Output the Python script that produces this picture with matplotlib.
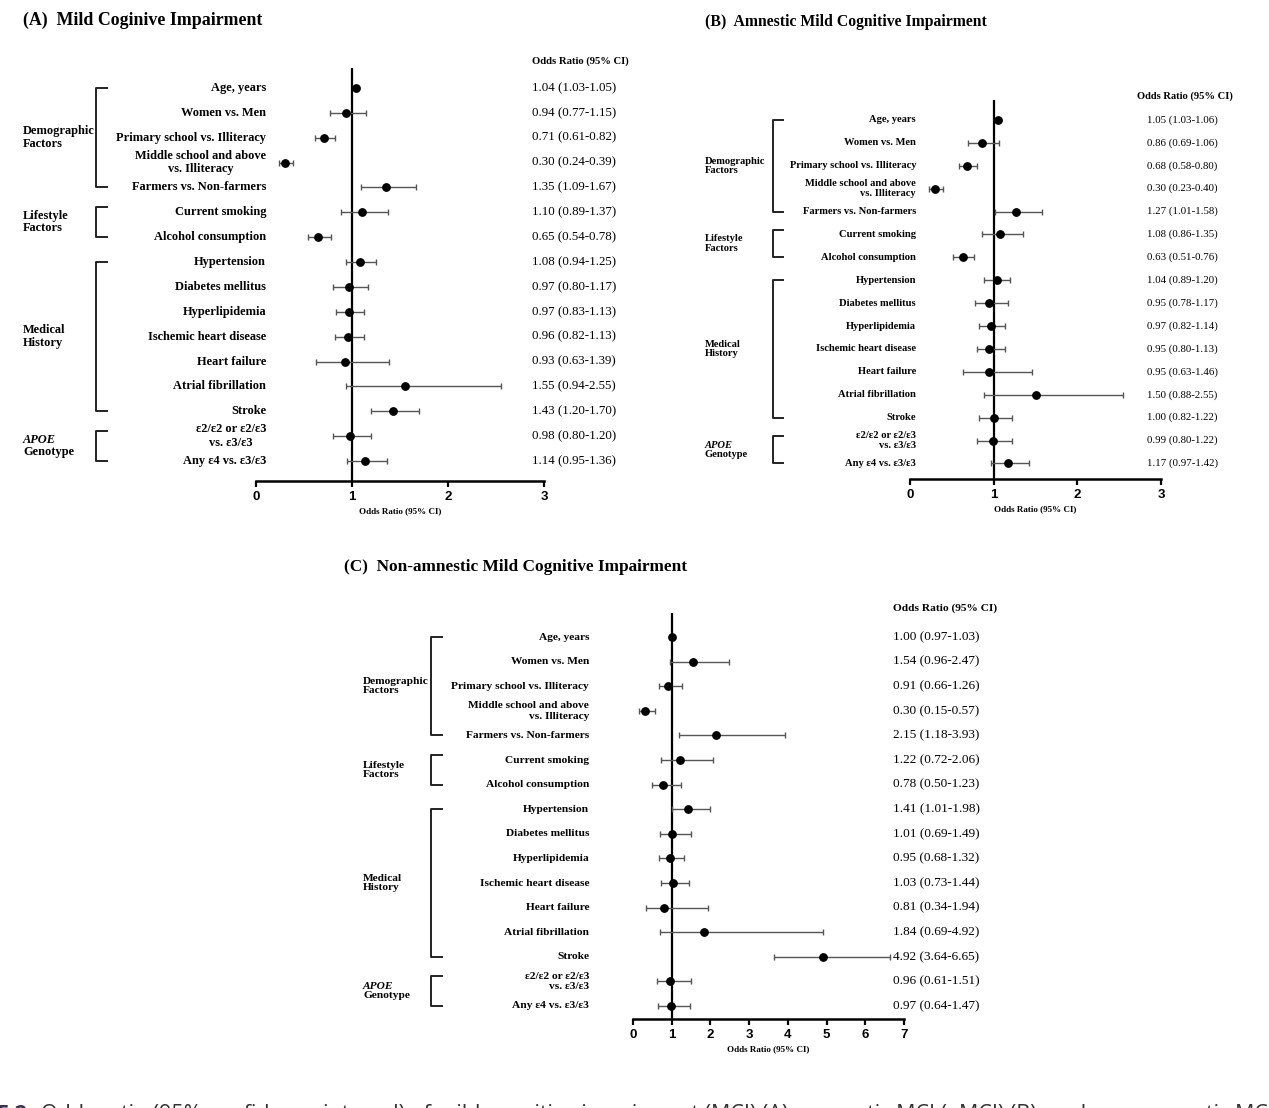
import matplotlib
matplotlib.use('Agg')
import matplotlib.pyplot as plt

SERIF = ['Liberation Serif', 'DejaVu Serif']
SANS_NARROW = ['Liberation Sans Narrow', 'Liberation Sans', 'DejaVu Sans']

W, H = 1269, 1108

labels = [
    "Age, years", "Women vs. Men", "Primary school vs. Illiteracy",
    "Middle school and above\nvs. Illiteracy", "Farmers vs. Non-farmers",
    "Current smoking", "Alcohol consumption", "Hypertension",
    "Diabetes mellitus", "Hyperlipidemia", "Ischemic heart disease",
    "Heart failure", "Atrial fibrillation", "Stroke",
    "ε2/ε2 or ε2/ε3\nvs. ε3/ε3", "Any ε4 vs. ε3/ε3",
]
# (label, first row, last row)
groups = [("Demographic\nFactors", 0, 4), ("Lifestyle\nFactors", 5, 6),
          ("Medical\nHistory", 7, 13), ("APOE", 14, 15)]

# Panel A: MCI
or_a = [1.04, 0.94, 0.71, 0.30, 1.35, 1.10, 0.65, 1.08, 0.97, 0.97, 0.96, 0.93, 1.55, 1.43, 0.98, 1.14]
lo_a = [1.03, 0.77, 0.61, 0.24, 1.09, 0.89, 0.54, 0.94, 0.80, 0.83, 0.82, 0.63, 0.94, 1.20, 0.80, 0.95]
hi_a = [1.05, 1.15, 0.82, 0.39, 1.67, 1.37, 0.78, 1.25, 1.17, 1.13, 1.13, 1.39, 2.55, 1.70, 1.20, 1.36]

# Panel B: amnestic MCI
or_b = [1.05, 0.86, 0.68, 0.30, 1.27, 1.08, 0.63, 1.04, 0.95, 0.97, 0.95, 0.95, 1.50, 1.00, 0.99, 1.17]
lo_b = [1.03, 0.69, 0.58, 0.23, 1.01, 0.86, 0.51, 0.89, 0.78, 0.82, 0.80, 0.63, 0.88, 0.82, 0.80, 0.97]
hi_b = [1.06, 1.06, 0.80, 0.40, 1.58, 1.35, 0.76, 1.20, 1.17, 1.14, 1.13, 1.46, 2.55, 1.22, 1.22, 1.42]

# Panel C: non-amnestic MCI
or_c = [1.00, 1.54, 0.91, 0.30, 2.15, 1.22, 0.78, 1.41, 1.01, 0.95, 1.03, 0.81, 1.84, 4.92, 0.96, 0.97]
lo_c = [0.97, 0.96, 0.66, 0.15, 1.18, 0.72, 0.50, 1.01, 0.69, 0.68, 0.73, 0.34, 0.69, 3.64, 0.61, 0.64]
hi_c = [1.03, 2.47, 1.26, 0.57, 3.93, 2.06, 1.23, 1.98, 1.49, 1.32, 1.44, 1.94, 4.92, 6.65, 1.51, 1.47]


def px_axes(fig, left, top, right, bottom):
    """Adds an axes given pixel box (origin top-left)."""
    return fig.add_axes([left / W, 1 - bottom / H, (right - left) / W, (bottom - top) / H])


def draw_panel(ax, ors, los, his, xmax, ylim, title, title_xy,
               lab_x, br_x, grp_x, val_x, head_xy, align, fs):
    fs_lab, fs_val, fs_head, fs_title = fs
    n = len(ors)
    rows = list(range(n))
    xerr = [[o - l for o, l in zip(ors, los)], [h - o for o, h in zip(ors, his)]]
    ax.errorbar(ors, rows, xerr=xerr, fmt='o', color='black', ms=5.3,
                ecolor='#555555', elinewidth=1.0, capsize=2.5, capthick=1.0, zorder=3)
    ax.axvline(1, color='black', lw=1.6, zorder=2)

    ax.set_xlim(0, xmax)
    ax.set_ylim(*ylim)
    ax.set_yticks([])
    for s in ['top', 'right', 'left']:
        ax.spines[s].set_visible(False)
    ax.spines['bottom'].set_linewidth(1.8)
    ax.set_xticks(range(xmax + 1))
    ax.tick_params(axis='x', length=4.5, width=1.6, pad=2.5)
    for t in ax.get_xticklabels():
        t.set_fontfamily(SANS_NARROW)
        t.set_fontweight('bold')
        t.set_fontsize(9.5)
    ax.set_xlabel("Odds Ratio (95% CI)", fontfamily=SERIF, fontweight='bold',
                  fontsize=6.5, labelpad=3)

    tr = ax.get_yaxis_transform()
    for i, lab in enumerate(labels):
        ax.text(lab_x, i, lab, transform=tr, ha='right', va='center',
                multialignment=align, fontfamily=SERIF, fontweight='bold',
                fontsize=fs_lab, linespacing=1.2, clip_on=False)
        ax.text(val_x, i, f"{ors[i]:.2f} ({los[i]:.2f}-{his[i]:.2f})",
                transform=tr, ha='left', va='center', fontfamily=SERIF,
                fontsize=fs_val, clip_on=False)
    ax.text(head_xy[0], head_xy[1], "Odds Ratio (95% CI)", transform=tr,
            ha='center', va='center', fontfamily=SERIF, fontweight='bold',
            fontsize=fs_head, clip_on=False)

    for name, start, end in groups:
        top = start - (0.2 if end - start == 1 else 0)
        ax.plot([br_x[1], br_x[0], br_x[0], br_x[1]], [top, top, end, end],
                transform=tr, color='#222222', lw=1.4, clip_on=False)
        mid = (top + end) / 2
        if name == "APOE":
            ax.text(grp_x, mid, "APOE", transform=tr, ha='left', va='bottom',
                    fontfamily=SERIF, fontweight='bold', fontstyle='italic',
                    fontsize=fs_lab, clip_on=False)
            ax.text(grp_x, mid, "Genotype", transform=tr, ha='left', va='top',
                    fontfamily=SERIF, fontweight='bold', fontsize=fs_lab, clip_on=False)
        else:
            ax.text(grp_x, mid, name, transform=tr, ha='left', va='center',
                    fontfamily=SERIF, fontweight='bold', fontsize=fs_lab,
                    linespacing=1.05, clip_on=False)

    fig = ax.figure
    fig.text(title_xy[0] / W, 1 - title_xy[1] / H, title, ha='left', va='center',
             fontfamily=SERIF, fontweight='bold', fontsize=fs_title)


fig = plt.figure(figsize=(W / 100, H / 100), dpi=100)

ax_a = px_axes(fig, 256, 68, 544, 481)
draw_panel(ax_a, or_a, lo_a, hi_a, 3, (15.8, -0.8),
           "(A)  Mild Coginive Impairment", (23, 20),
           lab_x=0.035, br_x=(-0.556, -0.517), grp_x=-0.809, val_x=0.958,
           head_xy=(1.125, -1.08), align='center', fs=(8.9, 9.3, 7.7, 12.9))

ax_b = px_axes(fig, 910, 100, 1161, 479)
draw_panel(ax_b, or_b, lo_b, hi_b, 3, (15.68, -0.87),
           "(B)  Amnestic Mild Cognitive Impairment", (705, 22),
           lab_x=0.024, br_x=(-0.546, -0.506), grp_x=-0.817, val_x=0.944,
           head_xy=(1.096, -1.05), align='right', fs=(7.6, 7.8, 7.6, 11.3))

ax_c = px_axes(fig, 633, 613, 904, 1019)
draw_panel(ax_c, or_c, lo_c, hi_c, 7, (15.53, -0.98),
           "(C)  Non-amnestic Mild Cognitive Impairment", (344, 567),
           lab_x=-0.162, br_x=(-0.745, -0.705), grp_x=-0.996, val_x=0.959,
           head_xy=(1.151, -1.18), align='right', fs=(8.2, 9.5, 8.2, 12.4))

# caption, cut off by the bottom edge
cap_y = 1 - 1104 / H
fig.text(27 / W, cap_y, "FIGURE 2", ha='right', va='top', color='#3b2d6e',
         fontfamily=['Open Sans', 'DejaVu Sans'], fontweight='bold', fontsize=15.5)
fig.text(41 / W, cap_y,
         "Odds ratio (95% confidence interval) of mild cognitive impairment (MCI) (A), "
         "amnestic MCI (aMCI) (B), and non-amnestic MCI (naMCI) (C)",
         ha='left', va='top', color='#333333',
         fontfamily=['Open Sans', 'DejaVu Sans'], fontsize=15.5)

fig.savefig('out.png', dpi=100)
